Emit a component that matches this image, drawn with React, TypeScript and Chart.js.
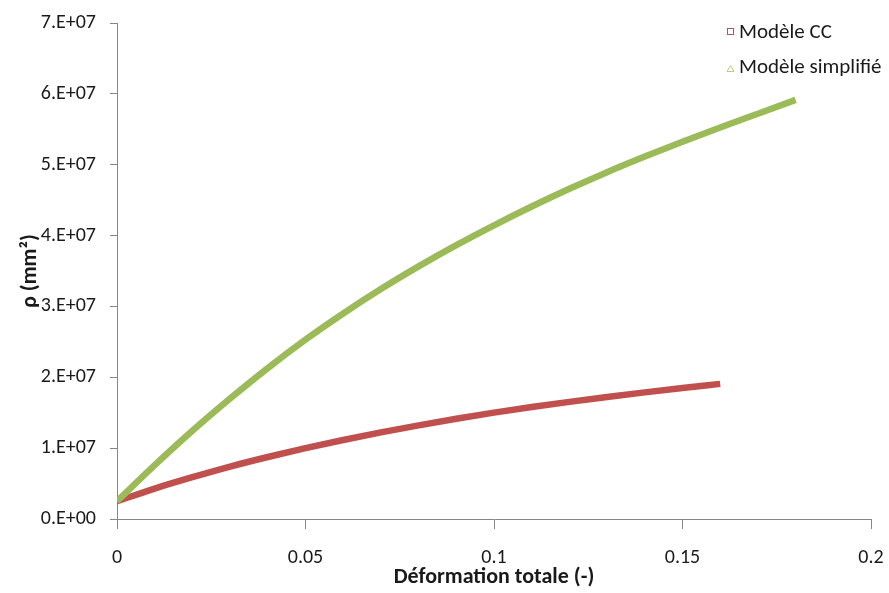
import { useEffect, useRef } from 'react';
import { Chart, registerables } from 'chart.js';

Chart.register(...registerables);

// Modèle CC
const strainCC = [0, 0.01, 0.02, 0.03, 0.04, 0.05, 0.06, 0.07, 0.08, 0.09, 0.1, 0.11, 0.12, 0.13, 0.14, 0.15, 0.16];
const rhoCC = [2.5e6, 4.3e6, 5.9e6, 7.4e6, 8.75e6, 1.0e7, 1.115e7, 1.222e7, 1.322e7, 1.415e7, 1.501e7, 1.58e7, 1.653e7, 1.722e7, 1.787e7, 1.848e7, 1.907e7];

// Modèle simplifié
const strainSimplified = [0, 0.01, 0.02, 0.03, 0.04, 0.05, 0.06, 0.07, 0.08, 0.09, 0.1, 0.11, 0.12, 0.13, 0.14, 0.15, 0.16, 0.17, 0.18];
const rhoSimplified = [2.5e6, 7.6e6, 1.245e7, 1.7e7, 2.13e7, 2.53e7, 2.9e7, 3.245e7, 3.565e7, 3.865e7, 4.145e7, 4.41e7, 4.66e7, 4.895e7, 5.115e7, 5.325e7, 5.525e7, 5.72e7, 5.915e7];

const seriesLabels = ['Modèle CC', 'Modèle simplifié'];
const seriesColors = ['#C0504D', '#9BBB59'];
const xTitle = 'Déformation totale (-)';
const yTitle = 'ρ (mm²)';
const xMin = 0;
const xMax = 0.2;
const xStep = 0.05;
const yMin = 0;
const yMax = 7e7;
const yStep = 1e7;

const FONT = 'Carlito, Lato, sans-serif';
const TEXT = '#1a1a1a';
const AXIS = '#868686';

export default function App() {
  const ref = useRef<HTMLCanvasElement | null>(null);

  useEffect(() => {
    if (!ref.current) return;

    const legendPlugin = {
      id: 'excelLegend',
      afterDraw(chart: any) {
        const ctx = chart.ctx as CanvasRenderingContext2D;
        ctx.save();
        ctx.font = `21px ${FONT}`;
        ctx.fillStyle = TEXT;
        ctx.textBaseline = 'alphabetic';
        ctx.textAlign = 'left';
        // CC marker: square
        ctx.strokeStyle = seriesColors[0];
        ctx.lineWidth = 1;
        ctx.strokeRect(727.5, 28.5, 6, 6);
        ctx.fillText(seriesLabels[0], 739, 38);
        // simplifié marker: triangle
        ctx.strokeStyle = '#B5CC85';
        ctx.beginPath();
        ctx.moveTo(730.5, 65.5);
        ctx.lineTo(734, 71.5);
        ctx.lineTo(727, 71.5);
        ctx.closePath();
        ctx.stroke();
        ctx.fillText(seriesLabels[1], 739, 73);
        ctx.restore();
      },
    };

    const chart = new Chart(ref.current, {
      type: 'scatter',
      data: {
        datasets: [
          {
            label: seriesLabels[1],
            data: strainSimplified.map((x, i) => ({ x, y: rhoSimplified[i] })),
            showLine: true,
            borderColor: seriesColors[1],
            backgroundColor: seriesColors[1],
            borderWidth: 6.5,
            pointRadius: 0,
            cubicInterpolationMode: 'monotone',
            borderCapStyle: 'butt',
            order: 0,
          },
          {
            label: seriesLabels[0],
            data: strainCC.map((x, i) => ({ x, y: rhoCC[i] })),
            showLine: true,
            borderColor: seriesColors[0],
            backgroundColor: seriesColors[0],
            borderWidth: 6.5,
            pointRadius: 0,
            cubicInterpolationMode: 'monotone',
            borderCapStyle: 'butt',
            order: 1,
          },
        ],
      },
      options: {
        animation: false,
        responsive: false,
        devicePixelRatio: 1,
        layout: { padding: { left: 0, top: 23, right: 0, bottom: 0 } },
        plugins: {
          legend: { display: false },
          tooltip: { enabled: false },
        },
        scales: {
          x: {
            type: 'linear',
            min: xMin,
            max: xMax,
            afterFit: (s: any) => {
              s.height = 74;
              s.paddingRight = 18;
              s.paddingLeft = 0;
            },
            ticks: {
              stepSize: xStep,
              color: TEXT,
              font: { family: FONT, size: 20 },
              padding: 17,
              callback: (v: any) => String(Number(Number(v).toFixed(2))),
            },
            grid: { drawOnChartArea: false, drawTicks: true, tickLength: 10, color: AXIS },
            border: { color: AXIS, width: 1 },
            title: {
              display: true,
              text: xTitle,
              color: TEXT,
              font: { family: FONT, size: 22, weight: 'bold' },
              padding: { top: 0, bottom: 2 },
            },
          },
          y: {
            type: 'linear',
            min: yMin,
            max: yMax,
            afterFit: (s: any) => {
              s.width = 117;
              s.paddingTop = 0;
              s.paddingBottom = 0;
            },
            ticks: {
              stepSize: yStep,
              color: TEXT,
              font: { family: FONT, size: 20 },
              padding: 14,
              callback: (v: any) => (Number(v) === 0 ? '0.E+00' : `${Math.round(Number(v) / 1e7)}.E+07`),
            },
            grid: { drawOnChartArea: false, drawTicks: true, tickLength: 7, color: AXIS },
            border: { color: AXIS, width: 1 },
            title: {
              display: true,
              text: yTitle,
              color: TEXT,
              font: { family: FONT, size: 22, weight: 'bold' },
              padding: { top: 17, bottom: 0 },
            },
          },
        },
      } as any,
      plugins: [legendPlugin],
    });

    return () => chart.destroy();
  }, []);

  return (
    <div style={{ position: 'fixed', left: 0, top: 0, width: 889, height: 593, background: '#fff' }}>
      <canvas ref={ref} width={889} height={593} style={{ display: 'block' }} />
    </div>
  );
}
